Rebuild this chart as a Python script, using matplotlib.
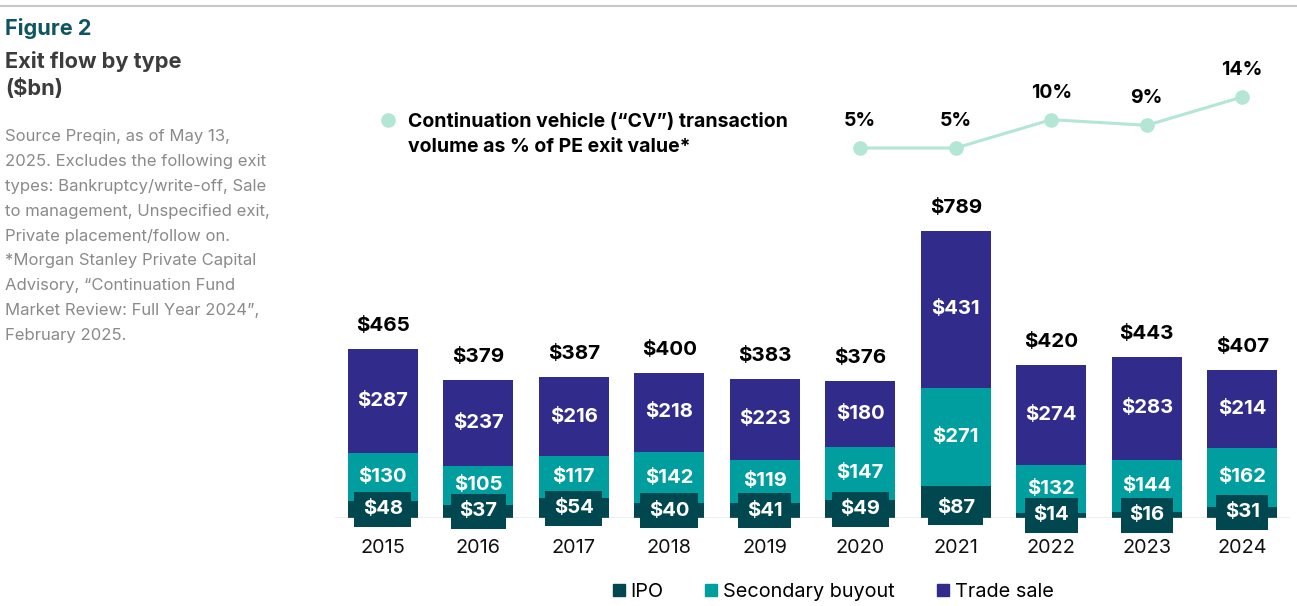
import matplotlib
matplotlib.use("Agg")
import matplotlib.pyplot as plt
from matplotlib.patches import Patch
from matplotlib.lines import Line2D

plt.rcParams['font.family'] = ['Inter', 'DejaVu Sans']

# ---- data ----
years = ["2015", "2016", "2017", "2018", "2019", "2020", "2021", "2022", "2023", "2024"]
ipo = [48, 37, 54, 40, 41, 49, 87, 14, 16, 31]
secondary = [130, 105, 117, 142, 119, 147, 271, 132, 144, 162]
trade = [287, 237, 216, 218, 223, 180, 431, 274, 283, 214]
totals = [465, 379, 387, 400, 383, 376, 789, 420, 443, 407]
cv_years = ["2020", "2021", "2022", "2023", "2024"]
cv_pct = [5, 5, 10, 9, 14]

series_names = ["IPO", "Secondary buyout", "Trade sale"]
c_ipo = "#00474F"
c_sec = "#009E9E"
c_trade = "#312C8C"
c_cv = "#B3E6D4"

source_lines = [
    "Source Preqin, as of May 13,",
    "2025. Excludes the following exit",
    "types: Bankruptcy/write-off, Sale",
    "to management, Unspecified exit,",
    "Private placement/follow on.",
    "*Morgan Stanley Private Capital",
    "Advisory, \u201cContinuation Fund",
    "Market Review: Full Year 2024\u201d,",
    "February 2025.",
]

W, H = 1297, 606
fig = plt.figure(figsize=(W / 100, H / 100), dpi=100)

def fy(px):
    return 1 - px / H

def fx(px):
    return px / W

# top rule
fig.add_artist(Line2D([0, 1], [fy(6), fy(6)], color="#C8C8C8", lw=1.5, transform=fig.transFigure))

# left text
fig.text(fx(5), fy(35), "Figure 2", color="#0E5560", fontsize=15.6, fontweight="bold", va="baseline")
fig.text(fx(5), fy(68), "Exit flow by type", color="#3C3C3C", fontsize=15.7, fontweight="bold", va="baseline")
fig.text(fx(5), fy(95), "($bn)", color="#3C3C3C", fontsize=15.7, fontweight="bold", va="baseline")
for i, line in enumerate(source_lines):
    fig.text(fx(5), fy(141.5 + 24.8 * i), line, color="#8A8A8A", fontsize=12, va="baseline")

# main axes
scale = 0.3637  # px per $bn
ax = fig.add_axes([fx(335), fy(518), fx(1290 - 335), (518 - 60) / H])
ax.set_xlim(-0.5, 9.5)
ax.set_ylim(0, (518 - 60) / scale)
x = list(range(len(years)))
bw = 0.733

ax.bar(x, ipo, bw, color=c_ipo, zorder=2)
bottom2 = ipo
ax.bar(x, secondary, bw, bottom=bottom2, color=c_sec, zorder=2)
bottom3 = [a + b for a, b in zip(ipo, secondary)]
ax.bar(x, trade, bw, bottom=bottom3, color=c_trade, zorder=2)

lab_fs = 14.6
for i in x:
    ax.text(i, min(ipo[i] / 2, 28), f"${ipo[i]}", ha="center", va="center", color="white",
            fontsize=lab_fs, fontweight="bold", zorder=5,
            bbox=dict(boxstyle="square,pad=0.42", fc=c_ipo, ec="none"))
    ax.text(i, bottom2[i] + secondary[i] / 2, f"${secondary[i]}", ha="center", va="center",
            color="white", fontsize=lab_fs, fontweight="bold", zorder=4)
    ax.text(i, bottom3[i] + trade[i] / 2, f"${trade[i]}", ha="center", va="center",
            color="white", fontsize=lab_fs, fontweight="bold", zorder=4)
    ax.annotate(f"${totals[i]}", (i, bottom3[i] + trade[i]), xytext=(0, 16.5),
                textcoords="offset points", ha="center", va="center", color="black",
                fontsize=14.8, fontweight="bold")

for s in ax.spines.values():
    s.set_visible(False)
ax.axhline(0, color="#B0B0B0", lw=1, zorder=3)
ax.set_yticks([])
ax.set_xticks(x)
ax.set_xticklabels(years, fontsize=14.3, color="#111111")
ax.tick_params(axis="x", length=0, pad=15)
ax.patch.set_alpha(0)

# CV line on twin axis
ax2 = ax.twinx()
ax2.set_ylim(-60.26, 20.52)
ax2.set_xlim(-0.5, 9.5)
cv_x = [years.index(y) for y in cv_years]
ax2.plot(cv_x, cv_pct, color=c_cv, lw=2.2, marker="o", markersize=9.5, zorder=3)
for xi, v in zip(cv_x, cv_pct):
    ax2.annotate(f"{v}%", (xi, v), xytext=(0, 19.5), textcoords="offset points",
                 ha="center", va="center", fontsize=14, fontweight="bold", color="black")
ax2.set_yticks([])
for s in ax2.spines.values():
    s.set_visible(False)

# CV legend
fig.add_artist(Line2D([fx(388)], [fy(120)], marker="o", markersize=9.5, color=c_cv,
                      lw=0, transform=fig.transFigure))
fig.text(fx(408), fy(127), "Continuation vehicle (\u201cCV\u201d) transaction", fontsize=14,
         fontweight="bold", color="black", va="baseline")
fig.text(fx(408), fy(152), "volume as % of PE exit value*", fontsize=14,
         fontweight="bold", color="black", va="baseline")

# bar legend
handles = [Patch(color=c) for c in (c_ipo, c_sec, c_trade)]
fig.legend(handles, series_names, loc="center", bbox_to_anchor=(fx(833), fy(592)), ncol=3,
           frameon=False, fontsize=14.3, handlelength=0.6, handleheight=0.6,
           handletextpad=0.3, columnspacing=2.1, borderaxespad=0, borderpad=0)

fig.savefig("out.png", dpi=100)
